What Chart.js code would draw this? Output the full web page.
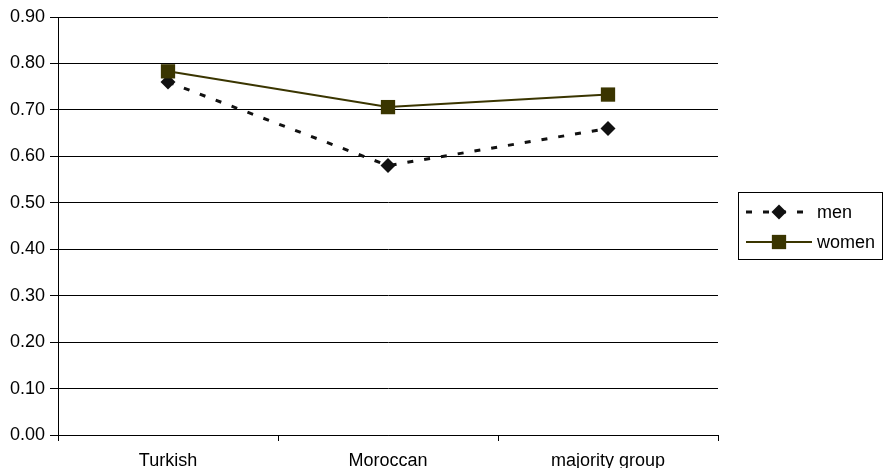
<!DOCTYPE html>
<html>
<head>
<meta charset="utf-8">
<script src="https://cdn.jsdelivr.net/npm/chart.js@4.4.0/dist/chart.umd.min.js"></script>
<style>
  html, body { margin: 0; padding: 0; background: #fff; }
  #wrap { width: 883px; height: 468px; position: relative; }
</style>
</head>
<body>
<div id="wrap"><canvas id="chart"></canvas></div>
<script>
// chart data
const categories = ["Turkish", "Moroccan", "majority group"];
const menValues = [0.76, 0.58, 0.66];
const womenValues = [0.783, 0.706, 0.733];
const yTicks = [0, 0.1, 0.2, 0.3, 0.4, 0.5, 0.6, 0.7, 0.8, 0.9];

const FONT = "'Liberation Sans', Arial, sans-serif";
const FONT_SIZE = 18;
const MEN_COLOR = "#111111";
const WOMEN_COLOR = "#3a3500";

// legend box drawn on the right, using the dataset styles
const sideLegend = {
  id: "sideLegend",
  afterDraw(chart) {
    const ctx = chart.ctx;
    const x = 738, y = 192, w = 144, h = 67;
    ctx.save();
    ctx.strokeStyle = "#000";
    ctx.lineWidth = 1;
    ctx.strokeRect(x + 0.5, y + 0.5, w, h);
    ctx.font = FONT_SIZE + "px " + FONT;
    ctx.textBaseline = "middle";

    chart.data.datasets.forEach((ds, i) => {
      const ly = y + 20 + i * 30;
      ctx.strokeStyle = ds.borderColor;
      ctx.lineWidth = ds.borderWidth;
      ctx.setLineDash(ds.borderDash || []);
      ctx.beginPath();
      ctx.moveTo(x + 8, ly);
      ctx.lineTo(x + 74, ly);
      ctx.stroke();
      ctx.setLineDash([]);
      // marker
      ctx.fillStyle = ds.pointBackgroundColor;
      const cx = x + 41, r = ds.pointRadius;
      ctx.beginPath();
      if (ds.pointStyle === "rect") {
        const s = r * Math.SQRT1_2;
        ctx.rect(cx - s, ly - s, 2 * s, 2 * s);
      } else {
        ctx.moveTo(cx, ly - r);
        ctx.lineTo(cx + r, ly);
        ctx.lineTo(cx, ly + r);
        ctx.lineTo(cx - r, ly);
        ctx.closePath();
      }
      ctx.fill();
      ctx.fillStyle = "#000";
      ctx.fillText(ds.label, x + 79, ly + 1);
    });
    ctx.restore();
  }
};

new Chart(document.getElementById("chart"), {
  type: "line",
  data: {
    labels: categories,
    datasets: [
      {
        label: "men",
        data: menValues,
        borderColor: MEN_COLOR,
        borderWidth: 3,
        borderDash: [6, 11],
        pointStyle: "rectRot",
        pointRadius: 7.5,
        pointBackgroundColor: MEN_COLOR,
        pointBorderColor: MEN_COLOR,
        pointBorderWidth: 0,
        tension: 0,
        order: 2
      },
      {
        label: "women",
        data: womenValues,
        borderColor: WOMEN_COLOR,
        borderWidth: 2,
        pointStyle: "rect",
        pointRadius: 10.1,
        pointBackgroundColor: WOMEN_COLOR,
        pointBorderColor: WOMEN_COLOR,
        pointBorderWidth: 0,
        tension: 0,
        order: 1
      }
    ]
  },
  options: {
    responsive: true,
    maintainAspectRatio: false,
    animation: false,
    layout: { padding: { top: 17, right: 165, bottom: 0, left: 0 } },
    plugins: {
      legend: { display: false },
      tooltip: { enabled: false }
    },
    scales: {
      x: {
        offset: true,
        grid: { offset: true, drawOnChartArea: false, color: "#000", tickLength: 6, tickColor: "#000" },
        border: { color: "#000", width: 1 },
        ticks: { color: "#000", font: { family: FONT, size: FONT_SIZE }, padding: 9, maxRotation: 0 },
        afterFit(scale) { scale.height = 33; }
      },
      y: {
        min: 0,
        max: 0.9,
        afterBuildTicks(scale) { scale.ticks = yTicks.map(v => ({ value: v })); },
        grid: { color: "#000", tickLength: 8, tickColor: "#000" },
        border: { color: "#000", width: 1 },
        ticks: {
          color: "#000",
          font: { family: FONT, size: FONT_SIZE },
          padding: 5,
          callback: v => Number(v).toFixed(2)
        },
        afterFit(scale) { scale.width = 58; }
      }
    }
  },
  plugins: [sideLegend]
});
</script>
</body>
</html>
